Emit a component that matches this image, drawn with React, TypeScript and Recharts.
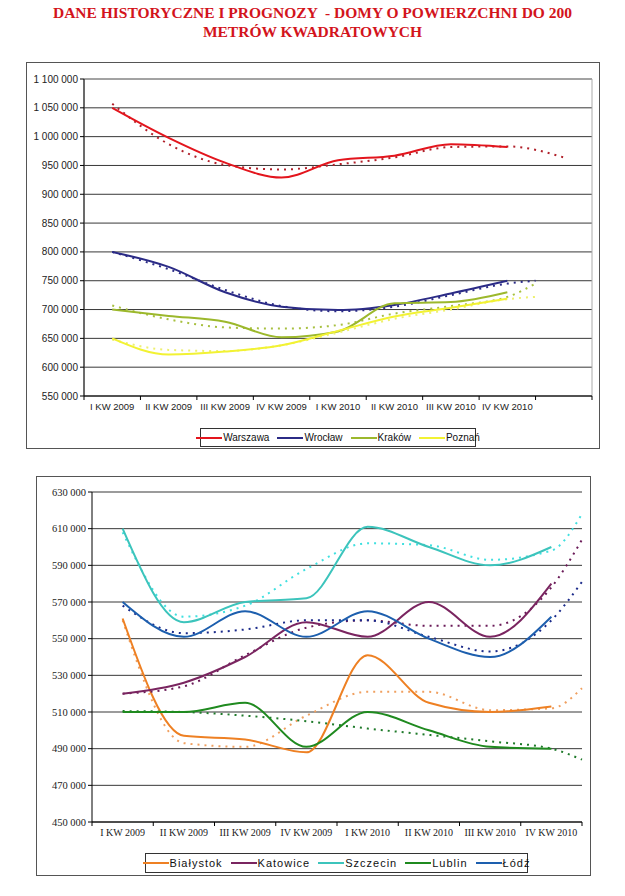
import React from 'react';
import { LineChart, Line, XAxis, YAxis, CartesianGrid, ReferenceArea } from 'recharts';

// quarters on the x axis (one slot each, labels sit in the middle of the slot)
const quarters = ['I KW 2009', 'II KW 2009', 'III KW 2009', 'IV KW 2009', 'I KW 2010', 'II KW 2010', 'III KW 2010', 'IV KW 2010'];

// top chart - big cities
const warszawa = [1050000, 998000, 955000, 929000, 959000, 967000, 987000, 982000];
const warszawaTrend = [1057000, 987000, 951000, 943000, 952000, 964000, 982000, 983000, 964000];
const wroclaw = [800000, 774000, 730000, 705000, 699000, 708000, 728000, 750000];
const wroclawTrend = [800000, 770000, 734000, 706000, 697000, 705000, 725000, 745000, 750000];
const krakow = [700000, 689000, 679000, 652000, 662000, 711000, 713000, 730000];
const krakowTrend = [707000, 683000, 669000, 667000, 673000, 693000, 706000, 722000, 745000];
const poznan = [650000, 622000, 627000, 638000, 663000, 688000, 703000, 719000];
const poznanTrend = [648000, 630000, 628000, 638000, 660000, 684000, 700000, 718000, 722000];

// bottom chart - other cities
const bialystok = [561000, 497000, 495000, 488000, 541000, 515000, 510000, 513000];
const bialystokTrend = [560000, 493000, 491000, 508000, 521000, 521000, 511000, 512000, 523000];
const katowice = [520000, 526000, 540000, 559000, 551000, 570000, 551000, 580000];
const katowiceTrend = [520000, 524000, 541000, 556000, 560000, 557000, 557000, 578000, 604000];
const szczecin = [610000, 559000, 570000, 572000, 611000, 600000, 590000, 600000];
const szczecinTrend = [608000, 562000, 568000, 588000, 602000, 601000, 593000, 598000, 618000];
const lublin = [510000, 510000, 515000, 491000, 510000, 500000, 491000, 490000];
const lublinTrend = [510500, 510000, 508000, 505000, 501000, 497500, 494000, 490000, 484000];
const lodz = [570000, 551000, 565000, 551000, 565000, 550000, 540000, 562000];
const lodzTrend = [568000, 553000, 555000, 560000, 560000, 551000, 543000, 560000, 581000];

const topTicks = [550000, 600000, 650000, 700000, 750000, 800000, 850000, 900000, 950000, 1000000, 1050000, 1100000];
const bottomTicks = [450000, 470000, 490000, 510000, 530000, 550000, 570000, 590000, 610000, 630000];

type Series = { name: string; color: string; trendColor: string; values: number[]; trend: number[]; trendEnd: number };

const topSeries: Series[] = [
  { name: 'Warszawa', color: '#e3151d', trendColor: '#b0202a', values: warszawa, trend: warszawaTrend, trendEnd: 8.5 },
  { name: 'Wrocław', color: '#2b2b86', trendColor: '#2b2b86', values: wroclaw, trend: wroclawTrend, trendEnd: 8 },
  { name: 'Kraków', color: '#9cb82c', trendColor: '#a8c040', values: krakow, trend: krakowTrend, trendEnd: 8 },
  { name: 'Poznań', color: '#f2f233', trendColor: '#eef070', values: poznan, trend: poznanTrend, trendEnd: 8 },
];

const bottomSeries: Series[] = [
  { name: 'Białystok', color: '#ee8023', trendColor: '#f0a060', values: bialystok, trend: bialystokTrend, trendEnd: 8 },
  { name: 'Katowice', color: '#7a2560', trendColor: '#6a1a58', values: katowice, trend: katowiceTrend, trendEnd: 8 },
  { name: 'Szczecin', color: '#3cc4bc', trendColor: '#40e0e0', values: szczecin, trend: szczecinTrend, trendEnd: 8 },
  { name: 'Lublin', color: '#1f8a1f', trendColor: '#1f7a2a', values: lublin, trend: lublinTrend, trendEnd: 8 },
  { name: 'Łódź', color: '#1d5fae', trendColor: '#1a2a8a', values: lodz, trend: lodzTrend, trendEnd: 8 },
];

// one row per x position, points sit in the middle of the quarter slot
const buildRows = (series: Series[]) => {
  const rows: any[] = quarters.map((q, i) => ({ x: i + 0.5 }));
  series.forEach((s, k) => {
    s.values.forEach((v, i) => { rows[i]['s' + k] = v; });
    s.trend.forEach((v, i) => {
      if (i < quarters.length) rows[i]['t' + k] = v;
      else {
        let row = rows.find(r => r.x === s.trendEnd);
        if (!row) { row = { x: s.trendEnd }; rows.push(row); }
        row['t' + k] = v;
      }
    });
  });
  return rows.sort((a, b) => a.x - b.x);
};

const topRows = buildRows(topSeries);
const bottomRows = buildRows(bottomSeries);

// non-breaking spaces so recharts doesn't wrap "1 100 000"
const fmt = (v: number) => String(v).replace(/\B(?=(\d{3})+(?!\d))/g, '\u00a0');

const XTick = (props: any) => {
  const { x, y, payload, half, font, size } = props;
  const i = payload.value;
  if (i >= quarters.length) return null;
  return (
    <text x={x + half} y={y} dy={8} textAnchor="middle" fontFamily={font} fontSize={size} fill="#222">
      {quarters[i]}
    </text>
  );
};

const Legend2 = ({ series, style, font, size, spacing }: any) => (
  <div style={{ position: 'absolute', border: '1px solid #333', background: '#fff', display: 'flex', alignItems: 'center', justifyContent: 'center', boxSizing: 'border-box', fontFamily: font, fontSize: size, letterSpacing: spacing, color: '#111', ...style }}>
    {series.map((s: Series) => (
      <span key={s.name} style={{ display: 'flex', alignItems: 'center', margin: '0 4px' }}>
        <span style={{ display: 'inline-block', width: 26, height: 2, background: s.color, marginRight: 1 }} />
        {s.name}
      </span>
    ))}
  </div>
);

const renderLines = (series: Series[], width: number) =>
  series.flatMap((s, k) => [
    <Line key={'t' + k} type="monotone" dataKey={'t' + k} stroke={s.trendColor} strokeWidth={2} strokeDasharray="2 5" dot={false} activeDot={false} connectNulls isAnimationActive={false} />,
    <Line key={'s' + k} type="monotone" dataKey={'s' + k} stroke={s.color} strokeWidth={width} dot={false} activeDot={false} connectNulls isAnimationActive={false} />,
  ]);

export default function App() {
  return (
    <div style={{ position: 'absolute', left: 0, top: 0, width: 625, height: 896, background: '#fff' }}>
      <div style={{ position: 'absolute', left: 0, top: 3, width: 625, textAlign: 'center', fontFamily: '"Liberation Serif", "Times New Roman", serif', fontWeight: 'bold', fontSize: 15.5, lineHeight: '19px', color: '#d3141c' }}>
        DANE HISTORYCZNE I PROGNOZY &nbsp;- DOMY O POWIERZCHNI DO 200<br />METRÓW KWADRATOWYCH
      </div>

      {/* top chart */}
      <div style={{ position: 'absolute', left: 26, top: 62, width: 574, height: 387, border: '1px solid #555', boxSizing: 'border-box' }} />
      <div style={{ position: 'absolute', left: 26, top: 62 }}>
        <LineChart width={574} height={387} data={topRows} margin={{ top: 17, right: 8, bottom: 23, left: 0 }}>
          <CartesianGrid horizontal vertical={false} stroke="#222" strokeOpacity={0.9} />
          <ReferenceArea x1={0} x2={9} y1={550000} y2={1100000} fill="none" stroke="#aaa" ifOverflow="visible" />
          <XAxis dataKey="x" type="number" domain={[0, 9]} ticks={[0, 1, 2, 3, 4, 5, 6, 7, 8, 9]} interval={0} height={30} stroke="#000" tickSize={4}
            tick={<XTick half={508 / 18} font='"Liberation Sans", Arial, sans-serif' size={9.5} />} />
          <YAxis type="number" domain={[550000, 1100000]} ticks={topTicks} interval={0} width={58} stroke="#000" tickSize={4} tickFormatter={fmt}
            tick={{ fontSize: 10, fill: '#222', fontFamily: '"Liberation Sans", Arial, sans-serif' }} />
          {renderLines(topSeries, 2)}
        </LineChart>
      </div>
      <Legend2 series={topSeries} style={{ left: 200, top: 428, width: 276, height: 19 }} font='"Liberation Sans", Arial, sans-serif' size={10} spacing={0} />

      {/* bottom chart */}
      <div style={{ position: 'absolute', left: 36, top: 476, width: 555, height: 400, border: '1px solid #555', boxSizing: 'border-box' }} />
      <div style={{ position: 'absolute', left: 36, top: 476 }}>
        <LineChart width={555} height={400} data={bottomRows} margin={{ top: 16, right: 9, bottom: 24, left: 0 }}>
          <CartesianGrid horizontal vertical={false} stroke="#222" strokeOpacity={0.9} />
          <XAxis dataKey="x" type="number" domain={[0, 8]} ticks={[0, 1, 2, 3, 4, 5, 6, 7, 8]} interval={0} height={30} stroke="#000" tickSize={4}
            tick={<XTick half={490 / 16} font='"Liberation Serif", "Times New Roman", serif' size={10} />} />
          <YAxis type="number" domain={[450000, 630000]} ticks={bottomTicks} interval={0} width={56} stroke="#000" tickSize={4} tickFormatter={fmt}
            tick={{ fontSize: 10.5, fill: '#222', fontFamily: '"Liberation Serif", "Times New Roman", serif' }} />
          {renderLines(bottomSeries, 2)}
        </LineChart>
      </div>
      <Legend2 series={bottomSeries} style={{ left: 145, top: 853, width: 383, height: 20 }} font='"Liberation Sans", Arial, sans-serif' size={11} spacing={1} />
    </div>
  );
}
